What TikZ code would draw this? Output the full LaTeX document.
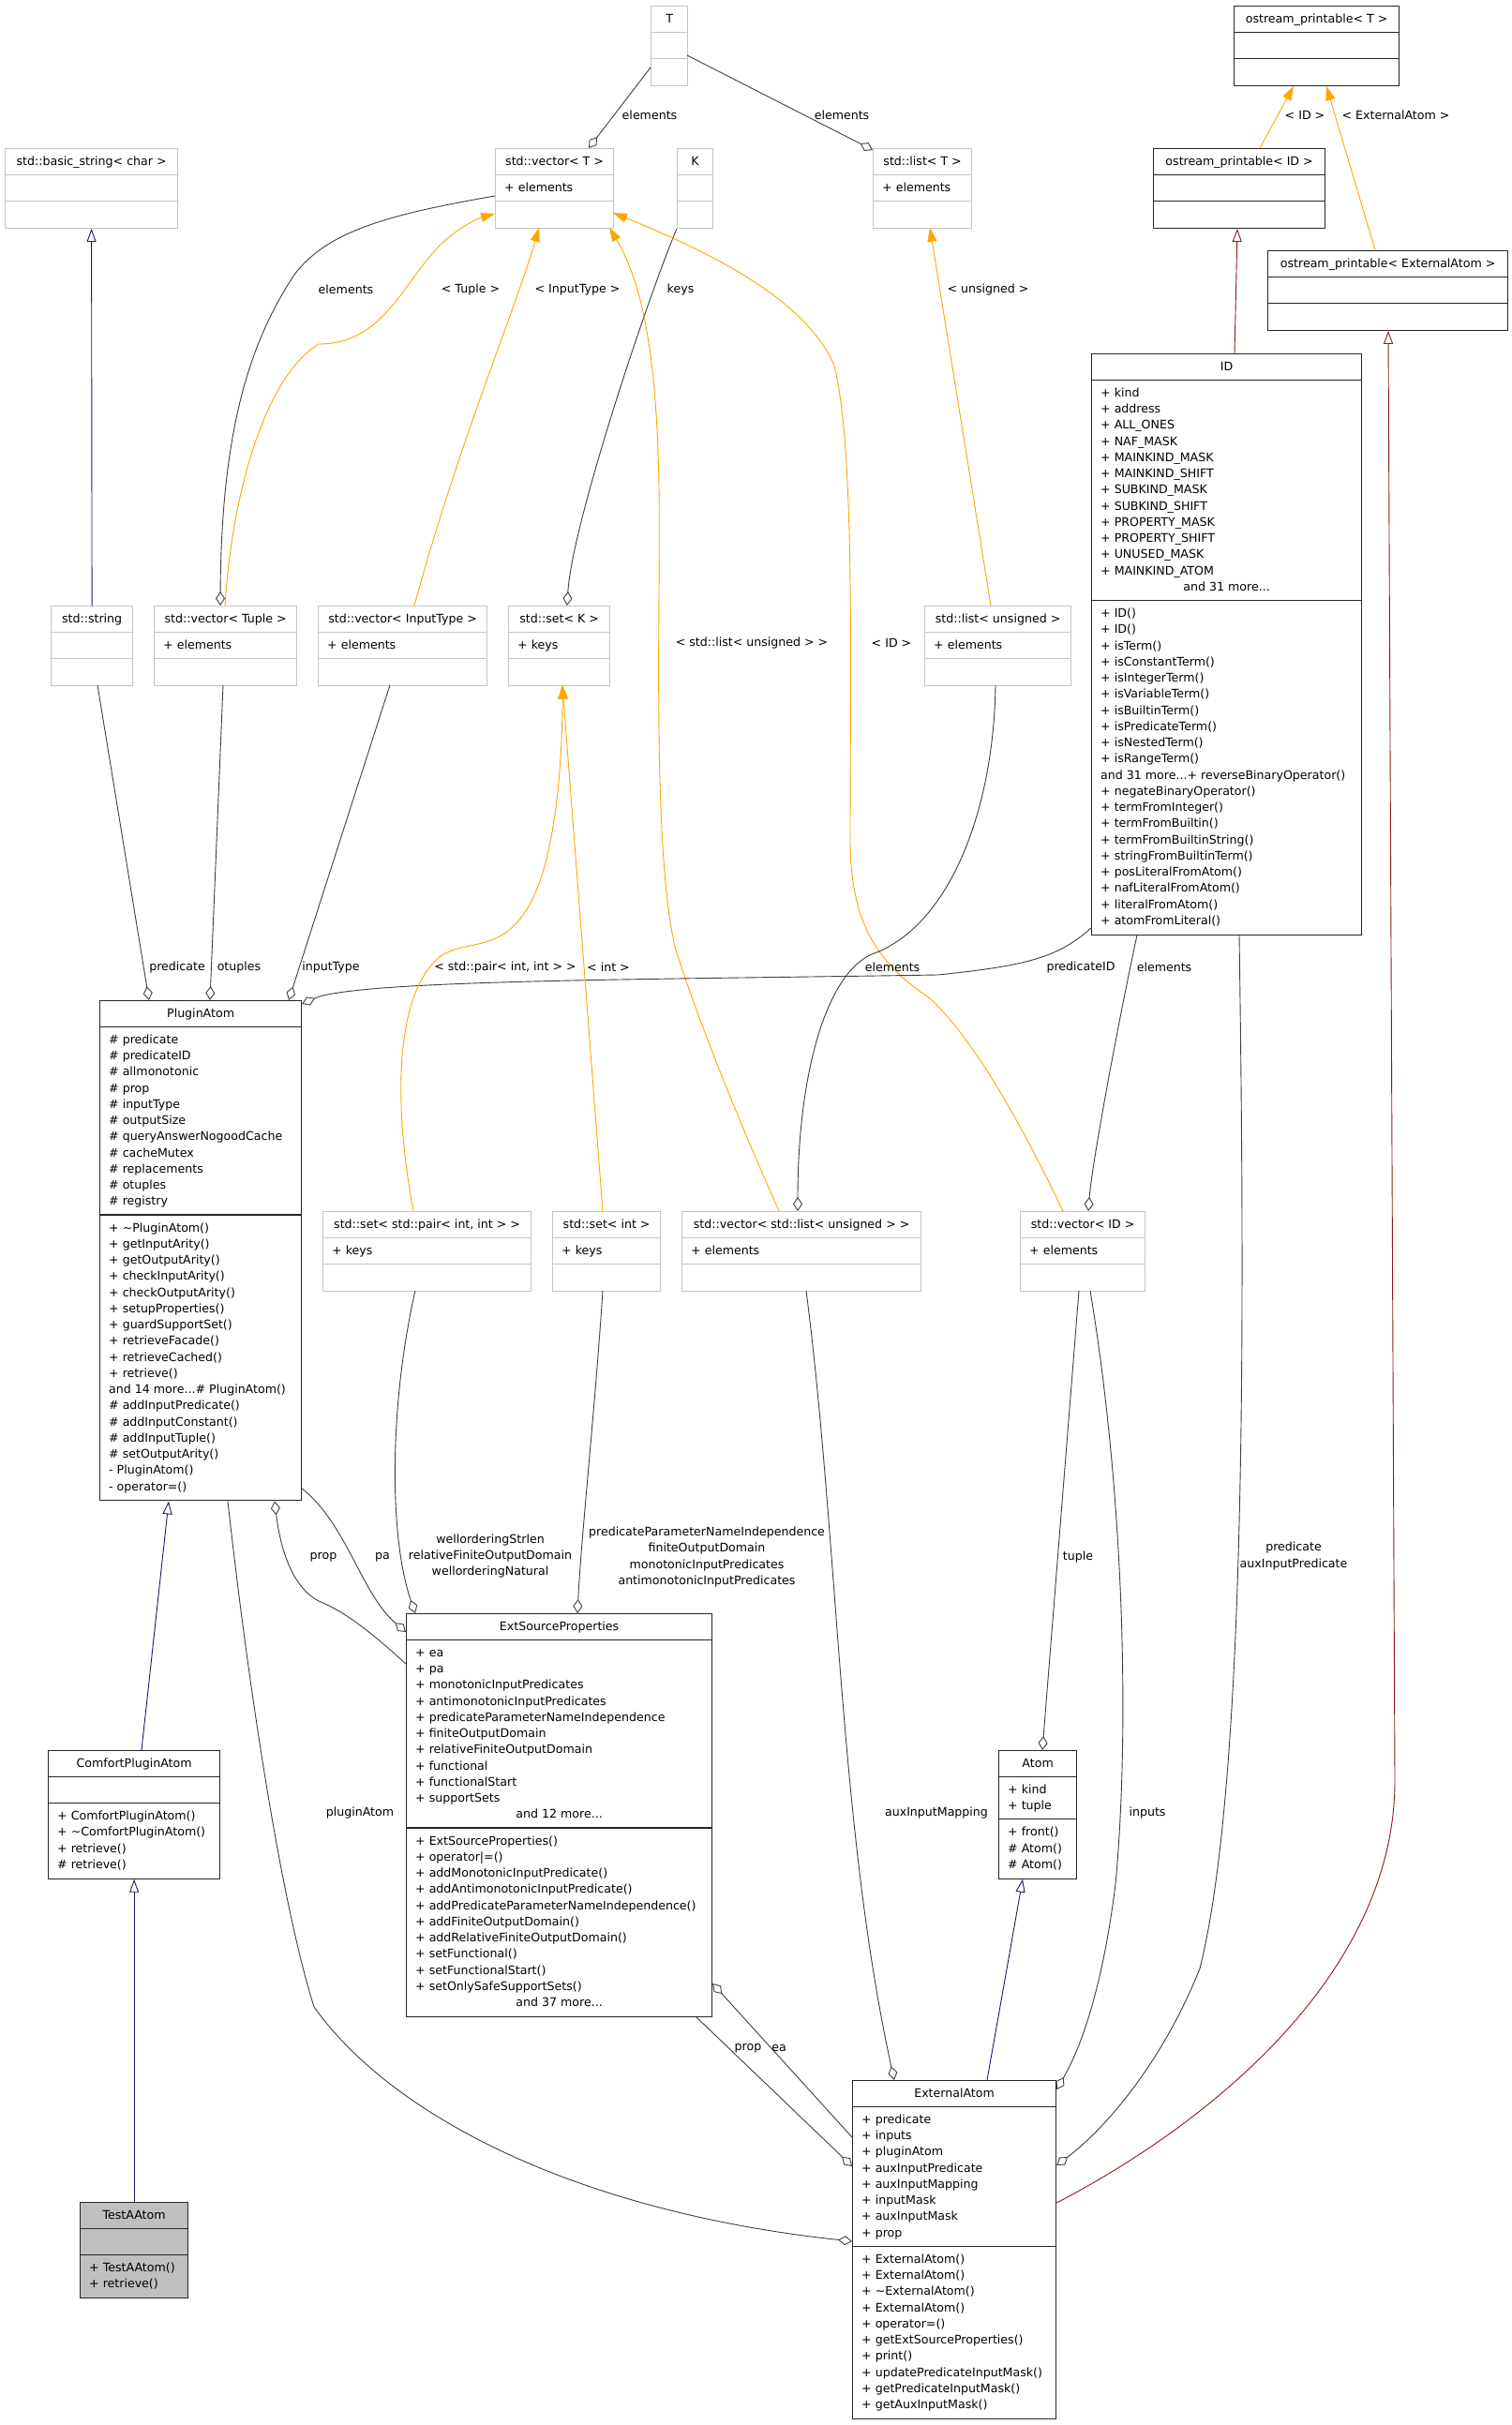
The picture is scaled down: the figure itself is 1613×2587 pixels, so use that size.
\documentclass[tikz,border=0pt]{standalone}
\usepackage{fontspec}
\setmainfont{DejaVu Sans}
\usetikzlibrary{arrows.meta,calc}
\definecolor{edgegray}{HTML}{404040}
\definecolor{tmplorange}{HTML}{FFA500}
\definecolor{inhblue}{HTML}{191970}
\definecolor{privred}{HTML}{8B1A1A}
\definecolor{undocgray}{HTML}{C4C4C4}
\definecolor{testfill}{HTML}{BFBFBF}
\newcommand\mystrut{\rule[-4.75pt]{0pt}{17.25pt}}
\def\parsegeom#1,#2,#3,#4,#5\relax{\def\bx{#1}\def\by{#2}\def\bw{#3}\def\bna{#4}\def\bnm{#5}}
\newcommand\classbox[6]{%
  \parsegeom#3\relax
  \pgfmathsetmacro\hone{28.25}%
  \pgfmathsetmacro\htwo{\bna*17.25+11}%
  \pgfmathsetmacro\hthree{\bnm*17.25+11}%
  \pgfmathsetmacro\htot{\hone+\htwo+\hthree}%
  \node[#2, anchor=north west, minimum width=\bw pt, minimum height=\htot pt, inner sep=0pt] (#1) at (\bx,\by) {};
  \draw[#2, fill=none] ($(#1.north west)+(0,\hone)$) -- ($(#1.north east)+(0,\hone)$);
  \draw[#2, fill=none] ($(#1.north west)+(0,\hone+\htwo)$) -- ($(#1.north east)+(0,\hone+\htwo)$);
  \node[anchor=north, inner sep=0pt] (#1-title) at ($(#1.north)+(0,5.5)$) {\mystrut#4};
  \node[anchor=north west, inner sep=0pt, align=left] (#1-attrs) at ($(#1.north west)+(10,\hone+5.5)$) {\mystrut#5};
  \node[anchor=north west, inner sep=0pt, align=left] (#1-meths) at ($(#1.north west)+(10,\hone+\htwo+5.5)$) {\mystrut#6};
}
\tikzset{
  undoc/.style={draw=undocgray, line width=1.2pt},
  doc/.style={draw=black!85, line width=1.2pt},
  cur/.style={draw=black!85, fill=testfill, line width=1.2pt},
  agg/.style={draw=edgegray, line width=0.9pt, -{Diamond[fill=white, length=15pt, width=10pt]}},
  tmpl/.style={draw=tmplorange, line width=0.9pt, -{Triangle[length=15pt, width=10pt]}},
  inh/.style={draw=inhblue, line width=0.9pt, -{Triangle[fill=white, length=14pt, width=10pt]}},
  priv/.style={draw=privred, line width=0.9pt, -{Triangle[fill=white, length=14pt, width=10pt]}},
  lbl/.style={inner sep=0pt, align=center}
}
\begin{document}
\begin{tikzpicture}[x=1pt, y=-1pt, font=\fontsize{12.6}{17.25}\selectfont]
\useasboundingbox[fill=white] (0,0) rectangle (1613,2587);

% ---------- class boxes ----------
\classbox{T}{undoc}{694,6,39,1,1}{T}{}{}
\classbox{opT}{doc}{1316,6,176,1,1}{ostream\_printable< T >}{}{}
\classbox{bstr}{undoc}{5,158,184,1,1}{std::basic\_string< char >}{}{}
\classbox{vecT}{undoc}{528,158,126,1,1}{std::vector< T >}{+ elements}{}
\classbox{K}{undoc}{722,158,38,1,1}{K}{}{}
\classbox{listT}{undoc}{931,158,105,1,1}{std::list< T >}{+ elements}{}
\classbox{opID}{doc}{1230,158,183,1,1}{ostream\_printable< ID >}{}{}
\classbox{opEA}{doc}{1352,267,256,1,1}{ostream\_printable< ExternalAtom >}{}{}
\classbox{ID}{doc}{1164,377,288,13,20}{ID}{+ kind\\+ address\\+ ALL\_ONES\\+ NAF\_MASK\\+ MAINKIND\_MASK\\+ MAINKIND\_SHIFT\\+ SUBKIND\_MASK\\+ SUBKIND\_SHIFT\\+ PROPERTY\_MASK\\+ PROPERTY\_SHIFT\\+ UNUSED\_MASK\\+ MAINKIND\_ATOM}{+ ID()\\+ ID()\\+ isTerm()\\+ isConstantTerm()\\+ isIntegerTerm()\\+ isVariableTerm()\\+ isBuiltinTerm()\\+ isPredicateTerm()\\+ isNestedTerm()\\+ isRangeTerm()\\and 31 more...+ reverseBinaryOperator()\\+ negateBinaryOperator()\\+ termFromInteger()\\+ termFromBuiltin()\\+ termFromBuiltinString()\\+ stringFromBuiltinTerm()\\+ posLiteralFromAtom()\\+ nafLiteralFromAtom()\\+ literalFromAtom()\\+ atomFromLiteral()}
\node[anchor=north, inner sep=0pt] (IDmore) at ($(ID.north)+(0,28.25+5.5+12*17.25)$) {\mystrut and 31 more...};
\classbox{str}{undoc}{54,646,87,1,1}{std::string}{}{}
\classbox{vecTu}{undoc}{164,646,152,1,1}{std::vector< Tuple >}{+ elements}{}
\classbox{vecIT}{undoc}{339,646,180,1,1}{std::vector< InputType >}{+ elements}{}
\classbox{setK}{undoc}{542,646,108,1,1}{std::set< K >}{+ keys}{}
\classbox{listU}{undoc}{986,646,156,1,1}{std::list< unsigned >}{+ elements}{}
\classbox{PA}{doc}{106,1067,215,11,17}{PluginAtom}{\# predicate\\\# predicateID\\\# allmonotonic\\\# prop\\\# inputType\\\# outputSize\\\# queryAnswerNogoodCache\\\# cacheMutex\\\# replacements\\\# otuples\\\# registry}{+ {\char"7E}PluginAtom()\\+ getInputArity()\\+ getOutputArity()\\+ checkInputArity()\\+ checkOutputArity()\\+ setupProperties()\\+ guardSupportSet()\\+ retrieveFacade()\\+ retrieveCached()\\+ retrieve()\\and 14 more...\# PluginAtom()\\\# addInputPredicate()\\\# addInputConstant()\\\# addInputTuple()\\\# setOutputArity()\\- PluginAtom()\\- operator=()}
\classbox{setP}{undoc}{344,1292,222,1,1}{std::set< std::pair< int, int > >}{+ keys}{}
\classbox{setI}{undoc}{589,1292,115,1,1}{std::set< int >}{+ keys}{}
\classbox{vecLU}{undoc}{727,1292,255,1,1}{std::vector< std::list< unsigned > >}{+ elements}{}
\classbox{vecID}{undoc}{1088,1292,133,1,1}{std::vector< ID >}{+ elements}{}
\classbox{ESP}{doc}{433,1721,326,11,11}{ExtSourceProperties}{+ ea\\+ pa\\+ monotonicInputPredicates\\+ antimonotonicInputPredicates\\+ predicateParameterNameIndependence\\+ finiteOutputDomain\\+ relativeFiniteOutputDomain\\+ functional\\+ functionalStart\\+ supportSets}{+ ExtSourceProperties()\\+ operator|=()\\+ addMonotonicInputPredicate()\\+ addAntimonotonicInputPredicate()\\+ addPredicateParameterNameIndependence()\\+ addFiniteOutputDomain()\\+ addRelativeFiniteOutputDomain()\\+ setFunctional()\\+ setFunctionalStart()\\+ setOnlySafeSupportSets()}
\node[anchor=north, inner sep=0pt] (ESPmoreA) at ($(ESP.north)+(0,28.25+5.5+10*17.25)$) {\mystrut and 12 more...};
\node[anchor=north, inner sep=0pt] (ESPmoreM) at ($(ESP.north)+(0,28.25+200.75+5.5+10*17.25)$) {\mystrut and 37 more...};
\classbox{CPA}{doc}{51,1867,183,1,4}{ComfortPluginAtom}{}{+ ComfortPluginAtom()\\+ {\char"7E}ComfortPluginAtom()\\+ retrieve()\\\# retrieve()}
\classbox{Atom}{doc}{1065,1867,83,2,3}{Atom}{+ kind\\+ tuple}{+ front()\\\# Atom()\\\# Atom()}
\classbox{TA}{cur}{85,2349,115,1,2}{TestAAtom}{}{+ TestAAtom()\\+ retrieve()}
\classbox{EA}{doc}{909,2219,217,8,10}{ExternalAtom}{+ predicate\\+ inputs\\+ pluginAtom\\+ auxInputPredicate\\+ auxInputMapping\\+ inputMask\\+ auxInputMask\\+ prop}{+ ExternalAtom()\\+ ExternalAtom()\\+ {\char"7E}ExternalAtom()\\+ ExternalAtom()\\+ operator=()\\+ getExtSourceProperties()\\+ print()\\+ updatePredicateInputMask()\\+ getPredicateInputMask()\\+ getAuxInputMask()}

% ---------- connectors ----------
\draw[agg] ($(T.north west)+(0,66)$) -- ($(vecT.north west)+(100,0)$);
\draw[agg] ($(T.north west)+(39,53)$) -- ($(listT.north west)+(0,2)$);
\draw[inh] (str.north) -- (bstr.south);
\draw[agg] ($(vecT.north west)+(0,51)$) .. controls (420,228) and (350,245) .. (314,293) .. controls (270,360) and (236,450) .. ($(vecTu.north west)+(71,0)$);
\draw[tmpl] ($(vecTu.north west)+(76,0)$) .. controls (248,520) and (285,400) .. (340,367) .. controls (410,367) and (430,300) .. (471,260) .. controls (490,242) and (510,233) .. ($(vecT.north west)+(0,70)$);
\draw[tmpl] ($(vecIT.north west)+(103,0)$) .. controls (490,470) and (550,330) .. ($(vecT.north west)+(47,84.75)$);
\draw[agg] (K.south west) .. controls (690,320) and (610,560) .. ($(setK.north west)+(63,0)$);
\draw[tmpl] ($(vecLU.north west)+(104,0)$) .. controls (790,1200) and (745,1090) .. (720,1010) .. controls (695,900) and (705,640) .. (703,520) .. controls (701,400) and (690,310) .. ($(vecT.north west)+(122,84.75)$);
\draw[tmpl] ($(vecID.north west)+(46,0)$) .. controls (1090,1200) and (1040,1110) .. (992,1065) .. controls (940,1030) and (908,990) .. (907,900) .. controls (907,700) and (912,480) .. (890,390) .. controls (860,320) and (760,270) .. ($(vecT.north west)+(126,69)$);
\draw[tmpl] ($(listU.north west)+(71,0)$) -- ($(listT.north west)+(61,84.75)$);
\draw[agg] ($(listU.north west)+(76,84.75)$) .. controls (1060,870) and (1010,990) .. (930,1018) .. controls (880,1040) and (851,1150) .. ($(vecLU.north west)+(124,0)$);
\draw[agg] ($(ID.south west)+(49,0)$) .. controls (1195,1080) and (1165,1240) .. ($(vecID.north west)+(73,0)$);
\draw[agg] ($(ID.north west)+(0,613)$) .. controls (1130,1020) and (1100,1030) .. (1000,1040) .. controls (700,1045) and (380,1045) .. ($(PA.north east)+(0,4)$);
\draw[agg] ($(str.north west)+(50,84.75)$) -- ($(PA.north west)+(53,0)$);
\draw[agg] ($(vecTu.north west)+(74,84.75)$) -- ($(PA.north west)+(118,0)$);
\draw[agg] ($(vecIT.north west)+(77,84.75)$) -- ($(PA.north west)+(202,0)$);
\draw[tmpl] ($(setP.north west)+(97,0)$) .. controls (420,1180) and (420,1060) .. (470,1020) .. controls (500,1000) and (540,1020) .. (570,955) .. controls (595,900) and (600,800) .. ($(setK.north west)+(58,84.75)$);
\draw[tmpl] ($(setI.north west)+(54,0)$) -- ($(setK.north west)+(58,84.75)$);
\draw[agg] ($(setP.north west)+(99,84.75)$) .. controls (415,1500) and (415,1640) .. ($(ESP.north west)+(10,0)$);
\draw[agg] ($(setI.north west)+(54,84.75)$) .. controls (635,1500) and (620,1640) .. ($(ESP.north west)+(183,0)$);
\draw[agg] ($(PA.north west)+(215,520)$) .. controls (370,1625) and (385,1700) .. ($(ESP.north west)+(0,20)$);
\draw[agg] ($(ESP.north west)+(0,54)$) .. controls (400,1745) and (370,1720) .. (340,1708) .. controls (315,1695) and (300,1660) .. ($(PA.south west)+(187,0)$);
\draw[inh] ($(CPA.north west)+(100,0)$) -- ($(PA.south west)+(74,0)$);
\draw[inh] (TA.north) -- (CPA.south);
\draw[agg] ($(PA.south west)+(137,0)$) .. controls (265,1800) and (300,2030) .. (335,2141) .. controls (420,2260) and (620,2360) .. ($(EA.north west)+(0,172)$);
\draw[agg] ($(ESP.south west)+(310,0)$) -- ($(EA.north west)+(0,92)$);
\draw[agg] ($(EA.north west)+(0,61)$) -- ($(ESP.north east)+(0,395)$);
\draw[agg] ($(vecLU.north west)+(133,84.75)$) .. controls (895,1650) and (895,1950) .. ($(EA.north west)+(45,0)$);
\draw[agg] ($(vecID.north west)+(63,84.75)$) -- ($(Atom.north west)+(47,0)$);
\draw[agg] ($(vecID.north west)+(75,84.75)$) .. controls (1200,1600) and (1205,1850) .. (1190,2010) .. controls (1175,2130) and (1150,2190) .. ($(EA.north east)+(0,10)$);
\draw[agg] ($(ID.south west)+(158,0)$) .. controls (1328,1400) and (1330,1900) .. (1280,2100) .. controls (1240,2200) and (1180,2270) .. ($(EA.north east)+(0,91)$);
\draw[priv] ($(EA.north east)+(0,131)$) .. controls (1300,2260) and (1488,2100) .. (1488,1900) -- ($(opEA.south west)+(129,0)$);
\draw[priv] ($(ID.north west)+(153,0)$) -- ($(opID.south west)+(90,0)$);
\draw[tmpl] ($(opID.north west)+(114,0)$) -- ($(opT.south west)+(64,0)$);
\draw[tmpl] ($(opEA.north west)+(115,0)$) -- ($(opT.south west)+(99,0)$);
\draw[inh] ($(EA.north west)+(144,0)$) -- ($(Atom.south west)+(26,0)$);

% ---------- labels ----------
\node[lbl] (l1) at (693,123) {elements};
\node[lbl] (l2) at (898,123) {elements};
\node[lbl] (l3) at (1392,123) {< ID >};
\node[lbl] (l4) at (1489,123) {< ExternalAtom >};
\node[lbl] (l5) at (369,309) {elements};
\node[lbl] (l6) at (502,309) {< Tuple >};
\node[lbl] (l7) at (616,309) {< InputType >};
\node[lbl] (l8) at (726,309) {keys};
\node[lbl] (l9) at (1054,309) {< unsigned >};
\node[lbl] (l10) at (802,686) {< std::list< unsigned > >};
\node[lbl] (l11) at (951,686) {< ID >};
\node[lbl] (l12) at (189,1032) {predicate};
\node[lbl] (l13) at (255,1032) {otuples};
\node[lbl] (l14) at (353,1032) {inputType};
\node[lbl] (l15) at (539,1032) {< std::pair< int, int > >};
\node[lbl] (l16) at (649,1032) {< int >};
\node[lbl] (l17) at (952,1032) {elements};
\node[lbl] (l18) at (1153,1032) {predicateID};
\node[lbl] (l19) at (1242,1032) {elements};
\node[lbl] (l20) at (345,1661) {prop};
\node[lbl] (l21) at (408,1661) {pa};
\node[lbl] (l22) at (523,1660) {wellorderingStrlen\\relativeFiniteOutputDomain\\wellorderingNatural};
\node[lbl] (l23) at (754,1661) {predicateParameterNameIndependence\\finiteOutputDomain\\monotonicInputPredicates\\antimonotonicInputPredicates};
\node[lbl] (l24) at (1150,1661) {tuple};
\node[lbl] (l25) at (1380,1660) {predicate\\auxInputPredicate};
\node[lbl] (l26) at (384,1934) {pluginAtom};
\node[lbl] (l27) at (999,1934) {auxInputMapping};
\node[lbl] (l28) at (1224,1934) {inputs};
\node[lbl] (l29) at (798,2185) {prop};
\node[lbl] (l30) at (831,2185) {ea};
\end{tikzpicture}
\end{document}
